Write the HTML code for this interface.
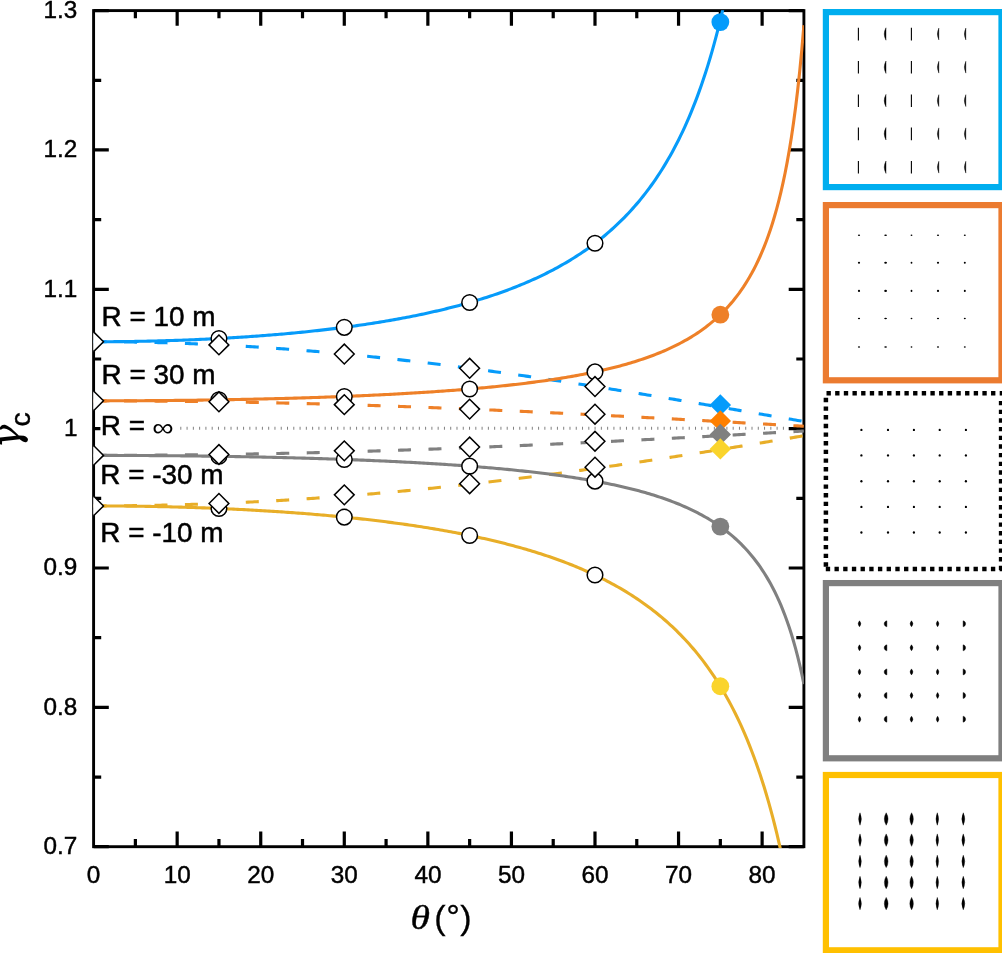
<!DOCTYPE html>
<html lang="en"><head><meta charset="utf-8"><title>Critical gamma versus incidence angle</title>
<style>html,body{margin:0;padding:0;background:#fff;overflow:hidden}svg{display:block}text{font-family:"Liberation Sans",sans-serif;fill:#000}.ser{font-family:"Liberation Serif",serif;font-style:italic}.dj{font-family:"DejaVu Serif","Liberation Serif",serif;font-style:italic}</style></head><body>
<svg width="1002" height="953" viewBox="0 0 1002 953">
<rect width="1002" height="953" fill="#fff"/>
<defs><clipPath id="cp"><rect x="93.2" y="10.2" width="710.7" height="837.7"/></clipPath></defs>
<g stroke="#000" stroke-width="2.9" fill="none" stroke-linecap="butt">
<rect x="93.60" y="10.60" width="710.30" height="836.10"/>
</g><g stroke="#000" stroke-width="3.2" fill="none">
<path d="M135.38 10.60v7.60M135.38 846.70v-7.60"/>
<path d="M177.16 10.60v15.20M177.16 846.70v-15.20"/>
<path d="M218.95 10.60v7.60M218.95 846.70v-7.60"/>
<path d="M260.73 10.60v15.20M260.73 846.70v-15.20"/>
<path d="M302.51 10.60v7.60M302.51 846.70v-7.60"/>
<path d="M344.29 10.60v15.20M344.29 846.70v-15.20"/>
<path d="M386.08 10.60v7.60M386.08 846.70v-7.60"/>
<path d="M427.86 10.60v15.20M427.86 846.70v-15.20"/>
<path d="M469.64 10.60v7.60M469.64 846.70v-7.60"/>
<path d="M511.42 10.60v15.20M511.42 846.70v-15.20"/>
<path d="M553.21 10.60v7.60M553.21 846.70v-7.60"/>
<path d="M594.99 10.60v15.20M594.99 846.70v-15.20"/>
<path d="M636.77 10.60v7.60M636.77 846.70v-7.60"/>
<path d="M678.55 10.60v15.20M678.55 846.70v-15.20"/>
<path d="M720.34 10.60v7.60M720.34 846.70v-7.60"/>
<path d="M762.12 10.60v15.20M762.12 846.70v-15.20"/>
<path d="M93.60 846.70h15.20M803.90 846.70h-15.20"/>
<path d="M93.60 777.03h7.60M803.90 777.03h-7.60"/>
<path d="M93.60 707.35h15.20M803.90 707.35h-15.20"/>
<path d="M93.60 637.68h7.60M803.90 637.68h-7.60"/>
<path d="M93.60 568.00h15.20M803.90 568.00h-15.20"/>
<path d="M93.60 498.33h7.60M803.90 498.33h-7.60"/>
<path d="M93.60 428.65h15.20M803.90 428.65h-15.20"/>
<path d="M93.60 358.98h7.60M803.90 358.98h-7.60"/>
<path d="M93.60 289.30h15.20M803.90 289.30h-15.20"/>
<path d="M93.60 219.63h7.60M803.90 219.63h-7.60"/>
<path d="M93.60 149.95h15.20M803.90 149.95h-15.20"/>
<path d="M93.60 80.28h7.60M803.90 80.28h-7.60"/>
<path d="M93.60 10.60h15.20M803.90 10.60h-15.20"/>
</g>
<path d="M180.30 428.35H786.00" stroke="#808080" stroke-width="3" stroke-dasharray="1 5.277" fill="none"/>
<rect x="100.4" y="414" width="78" height="24" fill="#fff"/>
<g clip-path="url(#cp)" fill="none" stroke-width="3.1" stroke-linejoin="round">
<path d="M93.60 341.75 L95.69 341.75 L97.78 341.75 L99.87 341.76 L101.96 341.76 L104.05 341.77 L106.13 341.78 L108.22 341.79 L110.31 341.81 L112.40 341.82 L114.49 341.84 L116.58 341.86 L118.67 341.88 L120.76 341.90 L122.85 341.92 L124.94 341.95 L127.03 341.98 L129.11 342.00 L131.20 342.04 L133.29 342.07 L135.38 342.10 L137.47 342.14 L139.56 342.18 L141.65 342.21 L143.74 342.26 L145.83 342.30 L147.92 342.34 L150.01 342.39 L152.10 342.44 L154.18 342.49 L156.27 342.54 L158.36 342.59 L160.45 342.65 L162.54 342.71 L164.63 342.76 L166.72 342.82 L168.81 342.89 L170.90 342.95 L172.99 343.02 L175.08 343.08 L177.16 343.15 L179.25 343.22 L181.34 343.29 L183.43 343.37 L185.52 343.44 L187.61 343.52 L189.70 343.60 L191.79 343.68 L193.88 343.77 L195.97 343.85 L198.06 343.94 L200.14 344.02 L202.23 344.11 L204.32 344.20 L206.41 344.30 L208.50 344.39 L210.59 344.49 L212.68 344.59 L214.77 344.69 L216.86 344.79 L218.95 344.89 L221.04 344.99 L223.13 345.10 L225.21 345.21 L227.30 345.32 L229.39 345.43 L231.48 345.54 L233.57 345.66 L235.66 345.77 L237.75 345.89 L239.84 346.01 L241.93 346.13 L244.02 346.26 L246.11 346.38 L248.19 346.51 L250.28 346.63 L252.37 346.76 L254.46 346.89 L256.55 347.03 L258.64 347.16 L260.73 347.30 L262.82 347.43 L264.91 347.57 L267.00 347.71 L269.09 347.86 L271.17 348.00 L273.26 348.15 L275.35 348.29 L277.44 348.44 L279.53 348.59 L281.62 348.74 L283.71 348.90 L285.80 349.05 L287.89 349.21 L289.98 349.37 L292.07 349.53 L294.16 349.69 L296.24 349.85 L298.33 350.02 L300.42 350.18 L302.51 350.35 L304.60 350.52 L306.69 350.69 L308.78 350.86 L310.87 351.04 L312.96 351.21 L315.05 351.39 L317.14 351.57 L319.22 351.74 L321.31 351.93 L323.40 352.11 L325.49 352.29 L327.58 352.48 L329.67 352.67 L331.76 352.85 L333.85 353.04 L335.94 353.24 L338.03 353.43 L340.12 353.62 L342.20 353.82 L344.29 354.02 L346.38 354.22 L348.47 354.42 L350.56 354.62 L352.65 354.82 L354.74 355.02 L356.83 355.23 L358.92 355.44 L361.01 355.65 L363.10 355.86 L365.19 356.07 L367.27 356.28 L369.36 356.50 L371.45 356.71 L373.54 356.93 L375.63 357.15 L377.72 357.37 L379.81 357.59 L381.90 357.81 L383.99 358.03 L386.08 358.26 L388.17 358.49 L390.25 358.71 L392.34 358.94 L394.43 359.17 L396.52 359.41 L398.61 359.64 L400.70 359.87 L402.79 360.11 L404.88 360.35 L406.97 360.59 L409.06 360.82 L411.15 361.07 L413.24 361.31 L415.32 361.55 L417.41 361.80 L419.50 362.04 L421.59 362.29 L423.68 362.54 L425.77 362.79 L427.86 363.04 L429.95 363.29 L432.04 363.54 L434.13 363.80 L436.22 364.05 L438.30 364.31 L440.39 364.57 L442.48 364.83 L444.57 365.09 L446.66 365.35 L448.75 365.61 L450.84 365.88 L452.93 366.14 L455.02 366.41 L457.11 366.68 L459.20 366.95 L461.28 367.22 L463.37 367.49 L465.46 367.76 L467.55 368.03 L469.64 368.31 L471.73 368.58 L473.82 368.86 L475.91 369.13 L478.00 369.41 L480.09 369.69 L482.18 369.97 L484.26 370.25 L486.35 370.54 L488.44 370.82 L490.53 371.11 L492.62 371.39 L494.71 371.68 L496.80 371.97 L498.89 372.26 L500.98 372.55 L503.07 372.84 L505.16 373.13 L507.25 373.42 L509.33 373.71 L511.42 374.01 L513.51 374.31 L515.60 374.60 L517.69 374.90 L519.78 375.20 L521.87 375.50 L523.96 375.80 L526.05 376.10 L528.14 376.40 L530.23 376.70 L532.31 377.01 L534.40 377.31 L536.49 377.62 L538.58 377.93 L540.67 378.23 L542.76 378.54 L544.85 378.85 L546.94 379.16 L549.03 379.47 L551.12 379.78 L553.21 380.10 L555.29 380.41 L557.38 380.73 L559.47 381.04 L561.56 381.36 L563.65 381.67 L565.74 381.99 L567.83 382.31 L569.92 382.63 L572.01 382.95 L574.10 383.27 L576.19 383.59 L578.28 383.91 L580.36 384.23 L582.45 384.56 L584.54 384.88 L586.63 385.21 L588.72 385.53 L590.81 385.86 L592.90 386.19 L594.99 386.51 L597.08 386.84 L599.17 387.17 L601.26 387.50 L603.34 387.83 L605.43 388.16 L607.52 388.49 L609.61 388.83 L611.70 389.16 L613.79 389.49 L615.88 389.83 L617.97 390.16 L620.06 390.50 L622.15 390.83 L624.24 391.17 L626.33 391.51 L628.41 391.84 L630.50 392.18 L632.59 392.52 L634.68 392.86 L636.77 393.20 L638.86 393.54 L640.95 393.88 L643.04 394.22 L645.13 394.57 L647.22 394.91 L649.31 395.25 L651.39 395.59 L653.48 395.94 L655.57 396.28 L657.66 396.63 L659.75 396.97 L661.84 397.32 L663.93 397.66 L666.02 398.01 L668.11 398.36 L670.20 398.71 L672.29 399.05 L674.37 399.40 L676.46 399.75 L678.55 400.10 L680.64 400.45 L682.73 400.80 L684.82 401.15 L686.91 401.50 L689.00 401.85 L691.09 402.20 L693.18 402.55 L695.27 402.91 L697.36 403.26 L699.44 403.61 L701.53 403.96 L703.62 404.32 L705.71 404.67 L707.80 405.02 L709.89 405.38 L711.98 405.73 L714.07 406.09 L716.16 406.44 L718.25 406.80 L720.34 407.15 L722.42 407.51 L724.51 407.86 L726.60 408.22 L728.69 408.58 L730.78 408.93 L732.87 409.29 L734.96 409.65 L737.05 410.00 L739.14 410.36 L741.23 410.72 L743.32 411.08 L745.40 411.43 L747.49 411.79 L749.58 412.15 L751.67 412.51 L753.76 412.87 L755.85 413.22 L757.94 413.58 L760.03 413.94 L762.12 414.30 L764.21 414.66 L766.30 415.02 L768.38 415.38 L770.47 415.74 L772.56 416.09 L774.65 416.45 L776.74 416.81 L778.83 417.17 L780.92 417.53 L783.01 417.89 L785.10 418.25 L787.19 418.61 L789.28 418.97 L791.37 419.33 L793.45 419.69 L795.54 420.05 L797.63 420.41 L799.72 420.77 L801.81 421.12 L803.90 421.48" stroke="#069bfa" stroke-dasharray="13 17.45"/>
<path d="M93.60 400.84 L95.69 400.84 L97.78 400.84 L99.87 400.84 L101.96 400.84 L104.05 400.85 L106.13 400.85 L108.22 400.85 L110.31 400.86 L112.40 400.86 L114.49 400.87 L116.58 400.87 L118.67 400.88 L120.76 400.89 L122.85 400.89 L124.94 400.90 L127.03 400.91 L129.11 400.92 L131.20 400.93 L133.29 400.94 L135.38 400.95 L137.47 400.96 L139.56 400.97 L141.65 400.98 L143.74 401.00 L145.83 401.01 L147.92 401.02 L150.01 401.04 L152.10 401.05 L154.18 401.07 L156.27 401.08 L158.36 401.10 L160.45 401.12 L162.54 401.13 L164.63 401.15 L166.72 401.17 L168.81 401.19 L170.90 401.21 L172.99 401.23 L175.08 401.25 L177.16 401.27 L179.25 401.29 L181.34 401.31 L183.43 401.34 L185.52 401.36 L187.61 401.38 L189.70 401.41 L191.79 401.43 L193.88 401.46 L195.97 401.49 L198.06 401.51 L200.14 401.54 L202.23 401.57 L204.32 401.59 L206.41 401.62 L208.50 401.65 L210.59 401.68 L212.68 401.71 L214.77 401.74 L216.86 401.77 L218.95 401.81 L221.04 401.84 L223.13 401.87 L225.21 401.90 L227.30 401.94 L229.39 401.97 L231.48 402.01 L233.57 402.04 L235.66 402.08 L237.75 402.11 L239.84 402.15 L241.93 402.19 L244.02 402.23 L246.11 402.27 L248.19 402.30 L250.28 402.34 L252.37 402.38 L254.46 402.42 L256.55 402.46 L258.64 402.51 L260.73 402.55 L262.82 402.59 L264.91 402.63 L267.00 402.68 L269.09 402.72 L271.17 402.77 L273.26 402.81 L275.35 402.86 L277.44 402.90 L279.53 402.95 L281.62 403.00 L283.71 403.04 L285.80 403.09 L287.89 403.14 L289.98 403.19 L292.07 403.24 L294.16 403.29 L296.24 403.34 L298.33 403.39 L300.42 403.44 L302.51 403.49 L304.60 403.54 L306.69 403.60 L308.78 403.65 L310.87 403.70 L312.96 403.76 L315.05 403.81 L317.14 403.87 L319.22 403.92 L321.31 403.98 L323.40 404.04 L325.49 404.09 L327.58 404.15 L329.67 404.21 L331.76 404.27 L333.85 404.33 L335.94 404.39 L338.03 404.45 L340.12 404.51 L342.20 404.57 L344.29 404.63 L346.38 404.69 L348.47 404.75 L350.56 404.82 L352.65 404.88 L354.74 404.94 L356.83 405.01 L358.92 405.07 L361.01 405.14 L363.10 405.20 L365.19 405.27 L367.27 405.33 L369.36 405.40 L371.45 405.47 L373.54 405.54 L375.63 405.60 L377.72 405.67 L379.81 405.74 L381.90 405.81 L383.99 405.88 L386.08 405.95 L388.17 406.02 L390.25 406.09 L392.34 406.16 L394.43 406.24 L396.52 406.31 L398.61 406.38 L400.70 406.45 L402.79 406.53 L404.88 406.60 L406.97 406.68 L409.06 406.75 L411.15 406.83 L413.24 406.90 L415.32 406.98 L417.41 407.06 L419.50 407.13 L421.59 407.21 L423.68 407.29 L425.77 407.37 L427.86 407.45 L429.95 407.52 L432.04 407.60 L434.13 407.68 L436.22 407.76 L438.30 407.84 L440.39 407.93 L442.48 408.01 L444.57 408.09 L446.66 408.17 L448.75 408.25 L450.84 408.34 L452.93 408.42 L455.02 408.50 L457.11 408.59 L459.20 408.67 L461.28 408.76 L463.37 408.84 L465.46 408.93 L467.55 409.01 L469.64 409.10 L471.73 409.19 L473.82 409.27 L475.91 409.36 L478.00 409.45 L480.09 409.54 L482.18 409.62 L484.26 409.71 L486.35 409.80 L488.44 409.89 L490.53 409.98 L492.62 410.07 L494.71 410.16 L496.80 410.25 L498.89 410.35 L500.98 410.44 L503.07 410.53 L505.16 410.62 L507.25 410.71 L509.33 410.81 L511.42 410.90 L513.51 410.99 L515.60 411.09 L517.69 411.18 L519.78 411.28 L521.87 411.37 L523.96 411.47 L526.05 411.56 L528.14 411.66 L530.23 411.75 L532.31 411.85 L534.40 411.95 L536.49 412.05 L538.58 412.14 L540.67 412.24 L542.76 412.34 L544.85 412.44 L546.94 412.54 L549.03 412.63 L551.12 412.73 L553.21 412.83 L555.29 412.93 L557.38 413.03 L559.47 413.13 L561.56 413.23 L563.65 413.34 L565.74 413.44 L567.83 413.54 L569.92 413.64 L572.01 413.74 L574.10 413.84 L576.19 413.95 L578.28 414.05 L580.36 414.15 L582.45 414.26 L584.54 414.36 L586.63 414.46 L588.72 414.57 L590.81 414.67 L592.90 414.78 L594.99 414.88 L597.08 414.99 L599.17 415.09 L601.26 415.20 L603.34 415.30 L605.43 415.41 L607.52 415.52 L609.61 415.62 L611.70 415.73 L613.79 415.84 L615.88 415.95 L617.97 416.05 L620.06 416.16 L622.15 416.27 L624.24 416.38 L626.33 416.49 L628.41 416.59 L630.50 416.70 L632.59 416.81 L634.68 416.92 L636.77 417.03 L638.86 417.14 L640.95 417.25 L643.04 417.36 L645.13 417.47 L647.22 417.58 L649.31 417.69 L651.39 417.80 L653.48 417.91 L655.57 418.03 L657.66 418.14 L659.75 418.25 L661.84 418.36 L663.93 418.47 L666.02 418.58 L668.11 418.70 L670.20 418.81 L672.29 418.92 L674.37 419.04 L676.46 419.15 L678.55 419.26 L680.64 419.37 L682.73 419.49 L684.82 419.60 L686.91 419.72 L689.00 419.83 L691.09 419.94 L693.18 420.06 L695.27 420.17 L697.36 420.29 L699.44 420.40 L701.53 420.52 L703.62 420.63 L705.71 420.75 L707.80 420.86 L709.89 420.98 L711.98 421.09 L714.07 421.21 L716.16 421.33 L718.25 421.44 L720.34 421.56 L722.42 421.67 L724.51 421.79 L726.60 421.91 L728.69 422.02 L730.78 422.14 L732.87 422.26 L734.96 422.37 L737.05 422.49 L739.14 422.61 L741.23 422.72 L743.32 422.84 L745.40 422.96 L747.49 423.08 L749.58 423.19 L751.67 423.31 L753.76 423.43 L755.85 423.55 L757.94 423.66 L760.03 423.78 L762.12 423.90 L764.21 424.02 L766.30 424.14 L768.38 424.25 L770.47 424.37 L772.56 424.49 L774.65 424.61 L776.74 424.73 L778.83 424.84 L780.92 424.96 L783.01 425.08 L785.10 425.20 L787.19 425.32 L789.28 425.44 L791.37 425.56 L793.45 425.68 L795.54 425.79 L797.63 425.91 L799.72 426.03 L801.81 426.15 L803.90 426.27" stroke="#ee8028" stroke-dasharray="13 17.45"/>
<path d="M93.60 455.39 L95.69 455.39 L97.78 455.39 L99.87 455.39 L101.96 455.39 L104.05 455.39 L106.13 455.38 L108.22 455.38 L110.31 455.38 L112.40 455.37 L114.49 455.37 L116.58 455.36 L118.67 455.36 L120.76 455.35 L122.85 455.34 L124.94 455.34 L127.03 455.33 L129.11 455.32 L131.20 455.31 L133.29 455.30 L135.38 455.29 L137.47 455.28 L139.56 455.27 L141.65 455.26 L143.74 455.25 L145.83 455.24 L147.92 455.22 L150.01 455.21 L152.10 455.20 L154.18 455.18 L156.27 455.17 L158.36 455.15 L160.45 455.14 L162.54 455.12 L164.63 455.10 L166.72 455.09 L168.81 455.07 L170.90 455.05 L172.99 455.03 L175.08 455.01 L177.16 454.99 L179.25 454.97 L181.34 454.95 L183.43 454.93 L185.52 454.91 L187.61 454.89 L189.70 454.87 L191.79 454.84 L193.88 454.82 L195.97 454.80 L198.06 454.77 L200.14 454.75 L202.23 454.72 L204.32 454.69 L206.41 454.67 L208.50 454.64 L210.59 454.61 L212.68 454.59 L214.77 454.56 L216.86 454.53 L218.95 454.50 L221.04 454.47 L223.13 454.44 L225.21 454.41 L227.30 454.38 L229.39 454.34 L231.48 454.31 L233.57 454.28 L235.66 454.25 L237.75 454.21 L239.84 454.18 L241.93 454.14 L244.02 454.11 L246.11 454.07 L248.19 454.04 L250.28 454.00 L252.37 453.96 L254.46 453.92 L256.55 453.89 L258.64 453.85 L260.73 453.81 L262.82 453.77 L264.91 453.73 L267.00 453.69 L269.09 453.65 L271.17 453.61 L273.26 453.57 L275.35 453.52 L277.44 453.48 L279.53 453.44 L281.62 453.39 L283.71 453.35 L285.80 453.30 L287.89 453.26 L289.98 453.21 L292.07 453.17 L294.16 453.12 L296.24 453.07 L298.33 453.03 L300.42 452.98 L302.51 452.93 L304.60 452.88 L306.69 452.83 L308.78 452.78 L310.87 452.73 L312.96 452.68 L315.05 452.63 L317.14 452.58 L319.22 452.53 L321.31 452.48 L323.40 452.42 L325.49 452.37 L327.58 452.32 L329.67 452.26 L331.76 452.21 L333.85 452.15 L335.94 452.10 L338.03 452.04 L340.12 451.98 L342.20 451.93 L344.29 451.87 L346.38 451.81 L348.47 451.75 L350.56 451.70 L352.65 451.64 L354.74 451.58 L356.83 451.52 L358.92 451.46 L361.01 451.40 L363.10 451.33 L365.19 451.27 L367.27 451.21 L369.36 451.15 L371.45 451.09 L373.54 451.02 L375.63 450.96 L377.72 450.89 L379.81 450.83 L381.90 450.76 L383.99 450.70 L386.08 450.63 L388.17 450.57 L390.25 450.50 L392.34 450.43 L394.43 450.37 L396.52 450.30 L398.61 450.23 L400.70 450.16 L402.79 450.09 L404.88 450.02 L406.97 449.95 L409.06 449.88 L411.15 449.81 L413.24 449.74 L415.32 449.67 L417.41 449.59 L419.50 449.52 L421.59 449.45 L423.68 449.38 L425.77 449.30 L427.86 449.23 L429.95 449.15 L432.04 449.08 L434.13 449.00 L436.22 448.93 L438.30 448.85 L440.39 448.78 L442.48 448.70 L444.57 448.62 L446.66 448.54 L448.75 448.47 L450.84 448.39 L452.93 448.31 L455.02 448.23 L457.11 448.15 L459.20 448.07 L461.28 447.99 L463.37 447.91 L465.46 447.83 L467.55 447.75 L469.64 447.67 L471.73 447.58 L473.82 447.50 L475.91 447.42 L478.00 447.34 L480.09 447.25 L482.18 447.17 L484.26 447.09 L486.35 447.00 L488.44 446.92 L490.53 446.83 L492.62 446.74 L494.71 446.66 L496.80 446.57 L498.89 446.49 L500.98 446.40 L503.07 446.31 L505.16 446.22 L507.25 446.14 L509.33 446.05 L511.42 445.96 L513.51 445.87 L515.60 445.78 L517.69 445.69 L519.78 445.60 L521.87 445.51 L523.96 445.42 L526.05 445.33 L528.14 445.24 L530.23 445.15 L532.31 445.05 L534.40 444.96 L536.49 444.87 L538.58 444.78 L540.67 444.68 L542.76 444.59 L544.85 444.49 L546.94 444.40 L549.03 444.31 L551.12 444.21 L553.21 444.12 L555.29 444.02 L557.38 443.92 L559.47 443.83 L561.56 443.73 L563.65 443.64 L565.74 443.54 L567.83 443.44 L569.92 443.34 L572.01 443.25 L574.10 443.15 L576.19 443.05 L578.28 442.95 L580.36 442.85 L582.45 442.75 L584.54 442.65 L586.63 442.55 L588.72 442.45 L590.81 442.35 L592.90 442.25 L594.99 442.15 L597.08 442.05 L599.17 441.95 L601.26 441.85 L603.34 441.74 L605.43 441.64 L607.52 441.54 L609.61 441.44 L611.70 441.33 L613.79 441.23 L615.88 441.13 L617.97 441.02 L620.06 440.92 L622.15 440.82 L624.24 440.71 L626.33 440.61 L628.41 440.50 L630.50 440.40 L632.59 440.29 L634.68 440.18 L636.77 440.08 L638.86 439.97 L640.95 439.87 L643.04 439.76 L645.13 439.65 L647.22 439.55 L649.31 439.44 L651.39 439.33 L653.48 439.22 L655.57 439.11 L657.66 439.01 L659.75 438.90 L661.84 438.79 L663.93 438.68 L666.02 438.57 L668.11 438.46 L670.20 438.35 L672.29 438.24 L674.37 438.13 L676.46 438.02 L678.55 437.91 L680.64 437.80 L682.73 437.69 L684.82 437.58 L686.91 437.47 L689.00 437.36 L691.09 437.25 L693.18 437.14 L695.27 437.03 L697.36 436.91 L699.44 436.80 L701.53 436.69 L703.62 436.58 L705.71 436.46 L707.80 436.35 L709.89 436.24 L711.98 436.13 L714.07 436.01 L716.16 435.90 L718.25 435.79 L720.34 435.67 L722.42 435.56 L724.51 435.44 L726.60 435.33 L728.69 435.22 L730.78 435.10 L732.87 434.99 L734.96 434.87 L737.05 434.76 L739.14 434.64 L741.23 434.53 L743.32 434.41 L745.40 434.30 L747.49 434.18 L749.58 434.06 L751.67 433.95 L753.76 433.83 L755.85 433.72 L757.94 433.60 L760.03 433.49 L762.12 433.37 L764.21 433.25 L766.30 433.14 L768.38 433.02 L770.47 432.90 L772.56 432.79 L774.65 432.67 L776.74 432.55 L778.83 432.43 L780.92 432.32 L783.01 432.20 L785.10 432.08 L787.19 431.97 L789.28 431.85 L791.37 431.73 L793.45 431.61 L795.54 431.49 L797.63 431.38 L799.72 431.26 L801.81 431.14 L803.90 431.02" stroke="#808080" stroke-dasharray="13 17.45"/>
<path d="M93.60 505.91 L95.69 505.91 L97.78 505.91 L99.87 505.91 L101.96 505.90 L104.05 505.90 L106.13 505.89 L108.22 505.88 L110.31 505.87 L112.40 505.86 L114.49 505.84 L116.58 505.83 L118.67 505.81 L120.76 505.80 L122.85 505.78 L124.94 505.76 L127.03 505.74 L129.11 505.71 L131.20 505.69 L133.29 505.66 L135.38 505.64 L137.47 505.61 L139.56 505.58 L141.65 505.55 L143.74 505.51 L145.83 505.48 L147.92 505.44 L150.01 505.41 L152.10 505.37 L154.18 505.33 L156.27 505.29 L158.36 505.25 L160.45 505.20 L162.54 505.16 L164.63 505.11 L166.72 505.06 L168.81 505.01 L170.90 504.96 L172.99 504.91 L175.08 504.86 L177.16 504.80 L179.25 504.75 L181.34 504.69 L183.43 504.63 L185.52 504.57 L187.61 504.51 L189.70 504.45 L191.79 504.38 L193.88 504.32 L195.97 504.25 L198.06 504.18 L200.14 504.11 L202.23 504.04 L204.32 503.97 L206.41 503.89 L208.50 503.82 L210.59 503.74 L212.68 503.66 L214.77 503.58 L216.86 503.50 L218.95 503.42 L221.04 503.34 L223.13 503.25 L225.21 503.17 L227.30 503.08 L229.39 502.99 L231.48 502.90 L233.57 502.81 L235.66 502.72 L237.75 502.62 L239.84 502.53 L241.93 502.43 L244.02 502.33 L246.11 502.23 L248.19 502.13 L250.28 502.03 L252.37 501.93 L254.46 501.82 L256.55 501.71 L258.64 501.61 L260.73 501.50 L262.82 501.39 L264.91 501.28 L267.00 501.16 L269.09 501.05 L271.17 500.93 L273.26 500.82 L275.35 500.70 L277.44 500.58 L279.53 500.46 L281.62 500.33 L283.71 500.21 L285.80 500.09 L287.89 499.96 L289.98 499.83 L292.07 499.70 L294.16 499.57 L296.24 499.44 L298.33 499.31 L300.42 499.18 L302.51 499.04 L304.60 498.90 L306.69 498.77 L308.78 498.63 L310.87 498.49 L312.96 498.34 L315.05 498.20 L317.14 498.06 L319.22 497.91 L321.31 497.76 L323.40 497.62 L325.49 497.47 L327.58 497.31 L329.67 497.16 L331.76 497.01 L333.85 496.85 L335.94 496.70 L338.03 496.54 L340.12 496.38 L342.20 496.22 L344.29 496.06 L346.38 495.90 L348.47 495.74 L350.56 495.57 L352.65 495.41 L354.74 495.24 L356.83 495.07 L358.92 494.90 L361.01 494.73 L363.10 494.56 L365.19 494.38 L367.27 494.21 L369.36 494.03 L371.45 493.86 L373.54 493.68 L375.63 493.50 L377.72 493.32 L379.81 493.13 L381.90 492.95 L383.99 492.77 L386.08 492.58 L388.17 492.39 L390.25 492.21 L392.34 492.02 L394.43 491.83 L396.52 491.63 L398.61 491.44 L400.70 491.25 L402.79 491.05 L404.88 490.86 L406.97 490.66 L409.06 490.46 L411.15 490.26 L413.24 490.06 L415.32 489.85 L417.41 489.65 L419.50 489.45 L421.59 489.24 L423.68 489.03 L425.77 488.82 L427.86 488.61 L429.95 488.40 L432.04 488.19 L434.13 487.98 L436.22 487.77 L438.30 487.55 L440.39 487.33 L442.48 487.12 L444.57 486.90 L446.66 486.68 L448.75 486.46 L450.84 486.23 L452.93 486.01 L455.02 485.79 L457.11 485.56 L459.20 485.33 L461.28 485.11 L463.37 484.88 L465.46 484.65 L467.55 484.42 L469.64 484.19 L471.73 483.95 L473.82 483.72 L475.91 483.48 L478.00 483.25 L480.09 483.01 L482.18 482.77 L484.26 482.53 L486.35 482.29 L488.44 482.05 L490.53 481.80 L492.62 481.56 L494.71 481.32 L496.80 481.07 L498.89 480.82 L500.98 480.57 L503.07 480.32 L505.16 480.07 L507.25 479.82 L509.33 479.57 L511.42 479.32 L513.51 479.06 L515.60 478.81 L517.69 478.55 L519.78 478.29 L521.87 478.04 L523.96 477.78 L526.05 477.52 L528.14 477.25 L530.23 476.99 L532.31 476.73 L534.40 476.46 L536.49 476.20 L538.58 475.93 L540.67 475.66 L542.76 475.40 L544.85 475.13 L546.94 474.86 L549.03 474.58 L551.12 474.31 L553.21 474.04 L555.29 473.77 L557.38 473.49 L559.47 473.21 L561.56 472.94 L563.65 472.66 L565.74 472.38 L567.83 472.10 L569.92 471.82 L572.01 471.54 L574.10 471.26 L576.19 470.97 L578.28 470.69 L580.36 470.40 L582.45 470.12 L584.54 469.83 L586.63 469.54 L588.72 469.25 L590.81 468.96 L592.90 468.67 L594.99 468.38 L597.08 468.09 L599.17 467.80 L601.26 467.50 L603.34 467.21 L605.43 466.91 L607.52 466.62 L609.61 466.32 L611.70 466.02 L613.79 465.72 L615.88 465.42 L617.97 465.12 L620.06 464.82 L622.15 464.52 L624.24 464.22 L626.33 463.91 L628.41 463.61 L630.50 463.30 L632.59 463.00 L634.68 462.69 L636.77 462.38 L638.86 462.07 L640.95 461.77 L643.04 461.46 L645.13 461.14 L647.22 460.83 L649.31 460.52 L651.39 460.21 L653.48 459.89 L655.57 459.58 L657.66 459.27 L659.75 458.95 L661.84 458.63 L663.93 458.32 L666.02 458.00 L668.11 457.68 L670.20 457.36 L672.29 457.04 L674.37 456.72 L676.46 456.40 L678.55 456.08 L680.64 455.75 L682.73 455.43 L684.82 455.11 L686.91 454.78 L689.00 454.46 L691.09 454.13 L693.18 453.80 L695.27 453.48 L697.36 453.15 L699.44 452.82 L701.53 452.49 L703.62 452.16 L705.71 451.83 L707.80 451.50 L709.89 451.17 L711.98 450.84 L714.07 450.51 L716.16 450.17 L718.25 449.84 L720.34 449.50 L722.42 449.17 L724.51 448.83 L726.60 448.50 L728.69 448.16 L730.78 447.82 L732.87 447.49 L734.96 447.15 L737.05 446.81 L739.14 446.47 L741.23 446.13 L743.32 445.79 L745.40 445.45 L747.49 445.11 L749.58 444.77 L751.67 444.43 L753.76 444.09 L755.85 443.74 L757.94 443.40 L760.03 443.06 L762.12 442.71 L764.21 442.37 L766.30 442.02 L768.38 441.68 L770.47 441.33 L772.56 440.98 L774.65 440.64 L776.74 440.29 L778.83 439.94 L780.92 439.59 L783.01 439.25 L785.10 438.90 L787.19 438.55 L789.28 438.20 L791.37 437.85 L793.45 437.50 L795.54 437.15 L797.63 436.80 L799.72 436.45 L801.81 436.09 L803.90 435.74" stroke="#e8ae28" stroke-dasharray="13 17.45"/>
<path d="M93.60 341.75 L95.69 341.75 L97.78 341.75 L99.87 341.74 L101.96 341.74 L104.05 341.73 L106.13 341.72 L108.22 341.71 L110.31 341.69 L112.40 341.68 L114.49 341.66 L116.58 341.64 L118.67 341.62 L120.76 341.60 L122.85 341.58 L124.94 341.55 L127.03 341.53 L129.11 341.50 L131.20 341.47 L133.29 341.43 L135.38 341.40 L137.47 341.36 L139.56 341.32 L141.65 341.28 L143.74 341.24 L145.83 341.20 L147.92 341.15 L150.01 341.11 L152.10 341.06 L154.18 341.01 L156.27 340.95 L158.36 340.90 L160.45 340.84 L162.54 340.78 L164.63 340.72 L166.72 340.66 L168.81 340.60 L170.90 340.53 L172.99 340.47 L175.08 340.40 L177.16 340.33 L179.25 340.25 L181.34 340.18 L183.43 340.10 L185.52 340.02 L187.61 339.94 L189.70 339.86 L191.79 339.77 L193.88 339.69 L195.97 339.60 L198.06 339.51 L200.14 339.41 L202.23 339.32 L204.32 339.22 L206.41 339.12 L208.50 339.02 L210.59 338.92 L212.68 338.81 L214.77 338.71 L216.86 338.60 L218.95 338.49 L221.04 338.37 L223.13 338.26 L225.21 338.14 L227.30 338.02 L229.39 337.90 L231.48 337.77 L233.57 337.65 L235.66 337.52 L237.75 337.39 L239.84 337.26 L241.93 337.12 L244.02 336.98 L246.11 336.84 L248.19 336.70 L250.28 336.56 L252.37 336.41 L254.46 336.26 L256.55 336.11 L258.64 335.96 L260.73 335.80 L262.82 335.64 L264.91 335.48 L267.00 335.32 L269.09 335.15 L271.17 334.98 L273.26 334.81 L275.35 334.64 L277.44 334.46 L279.53 334.29 L281.62 334.10 L283.71 333.92 L285.80 333.73 L287.89 333.55 L289.98 333.35 L292.07 333.16 L294.16 332.96 L296.24 332.76 L298.33 332.56 L300.42 332.35 L302.51 332.14 L304.60 331.93 L306.69 331.72 L308.78 331.50 L310.87 331.28 L312.96 331.06 L315.05 330.83 L317.14 330.60 L319.22 330.37 L321.31 330.14 L323.40 329.90 L325.49 329.65 L327.58 329.41 L329.67 329.16 L331.76 328.91 L333.85 328.66 L335.94 328.40 L338.03 328.14 L340.12 327.87 L342.20 327.60 L344.29 327.33 L346.38 327.05 L348.47 326.77 L350.56 326.49 L352.65 326.21 L354.74 325.92 L356.83 325.62 L358.92 325.32 L361.01 325.02 L363.10 324.72 L365.19 324.41 L367.27 324.09 L369.36 323.78 L371.45 323.45 L373.54 323.13 L375.63 322.80 L377.72 322.46 L379.81 322.13 L381.90 321.78 L383.99 321.44 L386.08 321.08 L388.17 320.73 L390.25 320.37 L392.34 320.00 L394.43 319.63 L396.52 319.26 L398.61 318.88 L400.70 318.49 L402.79 318.10 L404.88 317.71 L406.97 317.31 L409.06 316.90 L411.15 316.49 L413.24 316.08 L415.32 315.65 L417.41 315.23 L419.50 314.80 L421.59 314.36 L423.68 313.91 L425.77 313.46 L427.86 313.01 L429.95 312.55 L432.04 312.08 L434.13 311.61 L436.22 311.13 L438.30 310.64 L440.39 310.15 L442.48 309.65 L444.57 309.14 L446.66 308.63 L448.75 308.11 L450.84 307.58 L452.93 307.04 L455.02 306.50 L457.11 305.95 L459.20 305.40 L461.28 304.83 L463.37 304.26 L465.46 303.68 L467.55 303.09 L469.64 302.50 L471.73 301.89 L473.82 301.28 L475.91 300.66 L478.00 300.03 L480.09 299.39 L482.18 298.74 L484.26 298.08 L486.35 297.42 L488.44 296.74 L490.53 296.05 L492.62 295.36 L494.71 294.65 L496.80 293.93 L498.89 293.20 L500.98 292.47 L503.07 291.72 L505.16 290.96 L507.25 290.18 L509.33 289.40 L511.42 288.61 L513.51 287.80 L515.60 286.98 L517.69 286.15 L519.78 285.30 L521.87 284.44 L523.96 283.57 L526.05 282.68 L528.14 281.78 L530.23 280.87 L532.31 279.94 L534.40 279.00 L536.49 278.04 L538.58 277.07 L540.67 276.08 L542.76 275.07 L544.85 274.05 L546.94 273.01 L549.03 271.95 L551.12 270.87 L553.21 269.78 L555.29 268.67 L557.38 267.54 L559.47 266.39 L561.56 265.21 L563.65 264.02 L565.74 262.81 L567.83 261.58 L569.92 260.32 L572.01 259.04 L574.10 257.74 L576.19 256.41 L578.28 255.06 L580.36 253.69 L582.45 252.28 L584.54 250.86 L586.63 249.40 L588.72 247.92 L590.81 246.41 L592.90 244.86 L594.99 243.29 L597.08 241.69 L599.17 240.05 L601.26 238.39 L603.34 236.68 L605.43 234.95 L607.52 233.17 L609.61 231.36 L611.70 229.52 L613.79 227.63 L615.88 225.70 L617.97 223.73 L620.06 221.72 L622.15 219.66 L624.24 217.56 L626.33 215.40 L628.41 213.20 L630.50 210.95 L632.59 208.65 L634.68 206.29 L636.77 203.88 L638.86 201.41 L640.95 198.87 L643.04 196.28 L645.13 193.62 L647.22 190.90 L649.31 188.10 L651.39 185.23 L653.48 182.29 L655.57 179.27 L657.66 176.17 L659.75 172.99 L661.84 169.72 L663.93 166.36 L666.02 162.90 L668.11 159.34 L670.20 155.69 L672.29 151.92 L674.37 148.04 L676.46 144.05 L678.55 139.94 L680.64 135.69 L682.73 131.32 L684.82 126.80 L686.91 122.14 L689.00 117.32 L691.09 112.34 L693.18 107.20 L695.27 101.87 L697.36 96.36 L699.44 90.65 L701.53 84.73 L703.62 78.59 L705.71 72.22 L707.80 65.61 L709.89 58.74 L711.98 51.59 L714.07 44.15 L716.16 36.40 L718.25 28.33 L720.34 19.90 L722.42 11.10 L724.51 1.91 L726.60 -7.72 L728.69 -17.79 L730.78 -28.36 L732.87 -39.45 L734.96 -51.11 L737.05 -63.37 L739.14 -76.29 L741.23 -89.92 L743.32 -104.32 L745.40 -119.55 L747.49 -135.70 L749.58 -152.85 L751.67 -171.09 L753.76 -190.52 L755.85 -198.42" stroke="#069bfa"/>
<path d="M93.60 400.84 L95.69 400.84 L97.78 400.84 L99.87 400.84 L101.96 400.84 L104.05 400.83 L106.13 400.83 L108.22 400.83 L110.31 400.82 L112.40 400.82 L114.49 400.81 L116.58 400.81 L118.67 400.80 L120.76 400.79 L122.85 400.79 L124.94 400.78 L127.03 400.77 L129.11 400.76 L131.20 400.75 L133.29 400.74 L135.38 400.73 L137.47 400.72 L139.56 400.71 L141.65 400.70 L143.74 400.68 L145.83 400.67 L147.92 400.66 L150.01 400.64 L152.10 400.63 L154.18 400.61 L156.27 400.59 L158.36 400.58 L160.45 400.56 L162.54 400.54 L164.63 400.52 L166.72 400.51 L168.81 400.49 L170.90 400.47 L172.99 400.45 L175.08 400.42 L177.16 400.40 L179.25 400.38 L181.34 400.36 L183.43 400.33 L185.52 400.31 L187.61 400.28 L189.70 400.26 L191.79 400.23 L193.88 400.21 L195.97 400.18 L198.06 400.15 L200.14 400.12 L202.23 400.09 L204.32 400.06 L206.41 400.03 L208.50 400.00 L210.59 399.97 L212.68 399.94 L214.77 399.91 L216.86 399.87 L218.95 399.84 L221.04 399.80 L223.13 399.77 L225.21 399.73 L227.30 399.70 L229.39 399.66 L231.48 399.62 L233.57 399.58 L235.66 399.54 L237.75 399.50 L239.84 399.46 L241.93 399.42 L244.02 399.38 L246.11 399.34 L248.19 399.29 L250.28 399.25 L252.37 399.20 L254.46 399.16 L256.55 399.11 L258.64 399.06 L260.73 399.02 L262.82 398.97 L264.91 398.92 L267.00 398.87 L269.09 398.82 L271.17 398.77 L273.26 398.72 L275.35 398.66 L277.44 398.61 L279.53 398.55 L281.62 398.50 L283.71 398.44 L285.80 398.39 L287.89 398.33 L289.98 398.27 L292.07 398.21 L294.16 398.15 L296.24 398.09 L298.33 398.03 L300.42 397.96 L302.51 397.90 L304.60 397.84 L306.69 397.77 L308.78 397.71 L310.87 397.64 L312.96 397.57 L315.05 397.50 L317.14 397.43 L319.22 397.36 L321.31 397.29 L323.40 397.22 L325.49 397.14 L327.58 397.07 L329.67 396.99 L331.76 396.92 L333.85 396.84 L335.94 396.76 L338.03 396.68 L340.12 396.60 L342.20 396.52 L344.29 396.44 L346.38 396.35 L348.47 396.27 L350.56 396.18 L352.65 396.10 L354.74 396.01 L356.83 395.92 L358.92 395.83 L361.01 395.74 L363.10 395.65 L365.19 395.55 L367.27 395.46 L369.36 395.36 L371.45 395.27 L373.54 395.17 L375.63 395.07 L377.72 394.97 L379.81 394.86 L381.90 394.76 L383.99 394.66 L386.08 394.55 L388.17 394.44 L390.25 394.33 L392.34 394.22 L394.43 394.11 L396.52 394.00 L398.61 393.88 L400.70 393.77 L402.79 393.65 L404.88 393.53 L406.97 393.41 L409.06 393.29 L411.15 393.17 L413.24 393.04 L415.32 392.92 L417.41 392.79 L419.50 392.66 L421.59 392.53 L423.68 392.39 L425.77 392.26 L427.86 392.12 L429.95 391.99 L432.04 391.85 L434.13 391.70 L436.22 391.56 L438.30 391.42 L440.39 391.27 L442.48 391.12 L444.57 390.97 L446.66 390.81 L448.75 390.66 L450.84 390.50 L452.93 390.34 L455.02 390.18 L457.11 390.02 L459.20 389.85 L461.28 389.69 L463.37 389.52 L465.46 389.34 L467.55 389.17 L469.64 388.99 L471.73 388.81 L473.82 388.63 L475.91 388.45 L478.00 388.26 L480.09 388.07 L482.18 387.88 L484.26 387.69 L486.35 387.49 L488.44 387.29 L490.53 387.09 L492.62 386.88 L494.71 386.67 L496.80 386.46 L498.89 386.25 L500.98 386.03 L503.07 385.81 L505.16 385.59 L507.25 385.36 L509.33 385.13 L511.42 384.90 L513.51 384.66 L515.60 384.42 L517.69 384.18 L519.78 383.93 L521.87 383.68 L523.96 383.43 L526.05 383.17 L528.14 382.91 L530.23 382.64 L532.31 382.37 L534.40 382.10 L536.49 381.82 L538.58 381.54 L540.67 381.25 L542.76 380.96 L544.85 380.66 L546.94 380.36 L549.03 380.06 L551.12 379.75 L553.21 379.43 L555.29 379.11 L557.38 378.79 L559.47 378.46 L561.56 378.12 L563.65 377.78 L565.74 377.43 L567.83 377.08 L569.92 376.72 L572.01 376.36 L574.10 375.99 L576.19 375.61 L578.28 375.22 L580.36 374.83 L582.45 374.44 L584.54 374.03 L586.63 373.62 L588.72 373.20 L590.81 372.77 L592.90 372.34 L594.99 371.90 L597.08 371.45 L599.17 370.99 L601.26 370.52 L603.34 370.04 L605.43 369.56 L607.52 369.06 L609.61 368.56 L611.70 368.05 L613.79 367.52 L615.88 366.99 L617.97 366.44 L620.06 365.89 L622.15 365.32 L624.24 364.74 L626.33 364.15 L628.41 363.55 L630.50 362.93 L632.59 362.30 L634.68 361.66 L636.77 361.00 L638.86 360.33 L640.95 359.64 L643.04 358.94 L645.13 358.23 L647.22 357.49 L649.31 356.74 L651.39 355.97 L653.48 355.19 L655.57 354.38 L657.66 353.56 L659.75 352.72 L661.84 351.85 L663.93 350.97 L666.02 350.06 L668.11 349.13 L670.20 348.17 L672.29 347.19 L674.37 346.19 L676.46 345.15 L678.55 344.09 L680.64 343.00 L682.73 341.88 L684.82 340.73 L686.91 339.55 L689.00 338.33 L691.09 337.07 L693.18 335.78 L695.27 334.45 L697.36 333.08 L699.44 331.67 L701.53 330.21 L703.62 328.70 L705.71 327.15 L707.80 325.54 L709.89 323.89 L711.98 322.17 L714.07 320.40 L716.16 318.56 L718.25 316.66 L720.34 314.69 L722.42 312.64 L724.51 310.52 L726.60 308.32 L728.69 306.03 L730.78 303.64 L732.87 301.17 L734.96 298.58 L737.05 295.89 L739.14 293.09 L741.23 290.15 L743.32 287.09 L745.40 283.88 L747.49 280.52 L749.58 277.00 L751.67 273.31 L753.76 269.42 L755.85 265.34 L757.94 261.03 L760.03 256.49 L762.12 251.69 L764.21 246.61 L766.30 241.23 L768.38 235.51 L770.47 229.43 L772.56 222.96 L774.65 216.04 L776.74 208.63 L778.83 200.68 L780.92 192.14 L783.01 182.92 L785.10 172.95 L787.19 162.13 L789.28 150.34 L791.37 137.46 L793.45 123.32 L795.54 107.73 L797.63 90.45 L799.72 71.20 L801.81 49.61 L803.90 25.24" stroke="#ee8028"/>
<path d="M93.60 455.39 L95.69 455.39 L97.78 455.39 L99.87 455.40 L101.96 455.40 L104.05 455.40 L106.13 455.40 L108.22 455.41 L110.31 455.41 L112.40 455.41 L114.49 455.42 L116.58 455.42 L118.67 455.43 L120.76 455.44 L122.85 455.44 L124.94 455.45 L127.03 455.46 L129.11 455.47 L131.20 455.47 L133.29 455.48 L135.38 455.49 L137.47 455.50 L139.56 455.51 L141.65 455.53 L143.74 455.54 L145.83 455.55 L147.92 455.56 L150.01 455.58 L152.10 455.59 L154.18 455.60 L156.27 455.62 L158.36 455.63 L160.45 455.65 L162.54 455.67 L164.63 455.68 L166.72 455.70 L168.81 455.72 L170.90 455.74 L172.99 455.76 L175.08 455.78 L177.16 455.80 L179.25 455.82 L181.34 455.84 L183.43 455.86 L185.52 455.88 L187.61 455.91 L189.70 455.93 L191.79 455.95 L193.88 455.98 L195.97 456.00 L198.06 456.03 L200.14 456.06 L202.23 456.08 L204.32 456.11 L206.41 456.14 L208.50 456.17 L210.59 456.20 L212.68 456.23 L214.77 456.26 L216.86 456.29 L218.95 456.32 L221.04 456.35 L223.13 456.38 L225.21 456.42 L227.30 456.45 L229.39 456.48 L231.48 456.52 L233.57 456.55 L235.66 456.59 L237.75 456.63 L239.84 456.66 L241.93 456.70 L244.02 456.74 L246.11 456.78 L248.19 456.82 L250.28 456.86 L252.37 456.90 L254.46 456.94 L256.55 456.99 L258.64 457.03 L260.73 457.07 L262.82 457.12 L264.91 457.16 L267.00 457.21 L269.09 457.26 L271.17 457.30 L273.26 457.35 L275.35 457.40 L277.44 457.45 L279.53 457.50 L281.62 457.55 L283.71 457.60 L285.80 457.65 L287.89 457.71 L289.98 457.76 L292.07 457.82 L294.16 457.87 L296.24 457.93 L298.33 457.98 L300.42 458.04 L302.51 458.10 L304.60 458.16 L306.69 458.22 L308.78 458.28 L310.87 458.34 L312.96 458.40 L315.05 458.47 L317.14 458.53 L319.22 458.59 L321.31 458.66 L323.40 458.73 L325.49 458.79 L327.58 458.86 L329.67 458.93 L331.76 459.00 L333.85 459.07 L335.94 459.14 L338.03 459.22 L340.12 459.29 L342.20 459.36 L344.29 459.44 L346.38 459.51 L348.47 459.59 L350.56 459.67 L352.65 459.75 L354.74 459.83 L356.83 459.91 L358.92 459.99 L361.01 460.08 L363.10 460.16 L365.19 460.25 L367.27 460.33 L369.36 460.42 L371.45 460.51 L373.54 460.60 L375.63 460.69 L377.72 460.78 L379.81 460.87 L381.90 460.97 L383.99 461.06 L386.08 461.16 L388.17 461.26 L390.25 461.36 L392.34 461.46 L394.43 461.56 L396.52 461.66 L398.61 461.76 L400.70 461.87 L402.79 461.97 L404.88 462.08 L406.97 462.19 L409.06 462.30 L411.15 462.41 L413.24 462.53 L415.32 462.64 L417.41 462.76 L419.50 462.87 L421.59 462.99 L423.68 463.11 L425.77 463.23 L427.86 463.36 L429.95 463.48 L432.04 463.61 L434.13 463.74 L436.22 463.87 L438.30 464.00 L440.39 464.13 L442.48 464.26 L444.57 464.40 L446.66 464.54 L448.75 464.68 L450.84 464.82 L452.93 464.96 L455.02 465.11 L457.11 465.25 L459.20 465.40 L461.28 465.55 L463.37 465.70 L465.46 465.86 L467.55 466.01 L469.64 466.17 L471.73 466.33 L473.82 466.49 L475.91 466.66 L478.00 466.83 L480.09 466.99 L482.18 467.17 L484.26 467.34 L486.35 467.51 L488.44 467.69 L490.53 467.87 L492.62 468.06 L494.71 468.24 L496.80 468.43 L498.89 468.62 L500.98 468.81 L503.07 469.01 L505.16 469.20 L507.25 469.41 L509.33 469.61 L511.42 469.82 L513.51 470.02 L515.60 470.24 L517.69 470.45 L519.78 470.67 L521.87 470.89 L523.96 471.12 L526.05 471.34 L528.14 471.57 L530.23 471.81 L532.31 472.04 L534.40 472.29 L536.49 472.53 L538.58 472.78 L540.67 473.03 L542.76 473.28 L544.85 473.54 L546.94 473.81 L549.03 474.07 L551.12 474.34 L553.21 474.62 L555.29 474.90 L557.38 475.18 L559.47 475.47 L561.56 475.76 L563.65 476.06 L565.74 476.36 L567.83 476.67 L569.92 476.98 L572.01 477.29 L574.10 477.61 L576.19 477.94 L578.28 478.27 L580.36 478.61 L582.45 478.95 L584.54 479.30 L586.63 479.65 L588.72 480.01 L590.81 480.38 L592.90 480.75 L594.99 481.13 L597.08 481.51 L599.17 481.91 L601.26 482.30 L603.34 482.71 L605.43 483.12 L607.52 483.54 L609.61 483.97 L611.70 484.40 L613.79 484.85 L615.88 485.30 L617.97 485.76 L620.06 486.23 L622.15 486.70 L624.24 487.19 L626.33 487.69 L628.41 488.19 L630.50 488.71 L632.59 489.23 L634.68 489.77 L636.77 490.31 L638.86 490.87 L640.95 491.44 L643.04 492.02 L645.13 492.61 L647.22 493.21 L649.31 493.83 L651.39 494.46 L653.48 495.10 L655.57 495.76 L657.66 496.43 L659.75 497.12 L661.84 497.82 L663.93 498.54 L666.02 499.28 L668.11 500.03 L670.20 500.80 L672.29 501.58 L674.37 502.39 L676.46 503.21 L678.55 504.06 L680.64 504.92 L682.73 505.81 L684.82 506.72 L686.91 507.65 L689.00 508.61 L691.09 509.59 L693.18 510.60 L695.27 511.63 L697.36 512.69 L699.44 513.78 L701.53 514.91 L703.62 516.06 L705.71 517.24 L707.80 518.46 L709.89 519.72 L711.98 521.01 L714.07 522.35 L716.16 523.72 L718.25 525.13 L720.34 526.59 L722.42 528.10 L724.51 529.66 L726.60 531.26 L728.69 532.92 L730.78 534.64 L732.87 536.42 L734.96 538.26 L737.05 540.16 L739.14 542.13 L741.23 544.18 L743.32 546.31 L745.40 548.51 L747.49 550.81 L749.58 553.19 L751.67 555.67 L753.76 558.26 L755.85 560.95 L757.94 563.76 L760.03 566.70 L762.12 569.77 L764.21 572.98 L766.30 576.34 L768.38 579.87 L770.47 583.57 L772.56 587.46 L774.65 591.55 L776.74 595.87 L778.83 600.42 L780.92 605.22 L783.01 610.31 L785.10 615.70 L787.19 621.43 L789.28 627.52 L791.37 634.01 L793.45 640.95 L795.54 648.37 L797.63 656.33 L799.72 664.90 L801.81 674.14 L803.90 684.14" stroke="#808080"/>
<path d="M93.60 505.91 L95.69 505.91 L97.78 505.92 L99.87 505.92 L101.96 505.92 L104.05 505.93 L106.13 505.94 L108.22 505.95 L110.31 505.96 L112.40 505.97 L114.49 505.98 L116.58 506.00 L118.67 506.01 L120.76 506.03 L122.85 506.05 L124.94 506.07 L127.03 506.09 L129.11 506.11 L131.20 506.14 L133.29 506.16 L135.38 506.19 L137.47 506.22 L139.56 506.25 L141.65 506.28 L143.74 506.31 L145.83 506.35 L147.92 506.39 L150.01 506.42 L152.10 506.46 L154.18 506.50 L156.27 506.54 L158.36 506.59 L160.45 506.63 L162.54 506.68 L164.63 506.72 L166.72 506.77 L168.81 506.82 L170.90 506.87 L172.99 506.93 L175.08 506.98 L177.16 507.04 L179.25 507.10 L181.34 507.15 L183.43 507.22 L185.52 507.28 L187.61 507.34 L189.70 507.41 L191.79 507.47 L193.88 507.54 L195.97 507.61 L198.06 507.68 L200.14 507.76 L202.23 507.83 L204.32 507.91 L206.41 507.98 L208.50 508.06 L210.59 508.14 L212.68 508.23 L214.77 508.31 L216.86 508.40 L218.95 508.48 L221.04 508.57 L223.13 508.66 L225.21 508.75 L227.30 508.85 L229.39 508.94 L231.48 509.04 L233.57 509.14 L235.66 509.24 L237.75 509.34 L239.84 509.45 L241.93 509.55 L244.02 509.66 L246.11 509.77 L248.19 509.88 L250.28 509.99 L252.37 510.10 L254.46 510.22 L256.55 510.34 L258.64 510.46 L260.73 510.58 L262.82 510.70 L264.91 510.83 L267.00 510.96 L269.09 511.08 L271.17 511.22 L273.26 511.35 L275.35 511.48 L277.44 511.62 L279.53 511.76 L281.62 511.90 L283.71 512.04 L285.80 512.19 L287.89 512.33 L289.98 512.48 L292.07 512.63 L294.16 512.78 L296.24 512.94 L298.33 513.09 L300.42 513.25 L302.51 513.41 L304.60 513.58 L306.69 513.74 L308.78 513.91 L310.87 514.08 L312.96 514.25 L315.05 514.43 L317.14 514.60 L319.22 514.78 L321.31 514.96 L323.40 515.14 L325.49 515.33 L327.58 515.52 L329.67 515.71 L331.76 515.90 L333.85 516.10 L335.94 516.29 L338.03 516.49 L340.12 516.69 L342.20 516.90 L344.29 517.11 L346.38 517.32 L348.47 517.53 L350.56 517.74 L352.65 517.96 L354.74 518.18 L356.83 518.41 L358.92 518.63 L361.01 518.86 L363.10 519.09 L365.19 519.33 L367.27 519.56 L369.36 519.80 L371.45 520.05 L373.54 520.29 L375.63 520.54 L377.72 520.79 L379.81 521.05 L381.90 521.31 L383.99 521.57 L386.08 521.83 L388.17 522.10 L390.25 522.37 L392.34 522.64 L394.43 522.92 L396.52 523.20 L398.61 523.48 L400.70 523.77 L402.79 524.06 L404.88 524.35 L406.97 524.65 L409.06 524.95 L411.15 525.26 L413.24 525.57 L415.32 525.88 L417.41 526.19 L419.50 526.51 L421.59 526.84 L423.68 527.16 L425.77 527.50 L427.86 527.83 L429.95 528.17 L432.04 528.51 L434.13 528.86 L436.22 529.21 L438.30 529.57 L440.39 529.93 L442.48 530.29 L444.57 530.66 L446.66 531.04 L448.75 531.41 L450.84 531.80 L452.93 532.19 L455.02 532.58 L457.11 532.97 L459.20 533.38 L461.28 533.78 L463.37 534.20 L465.46 534.61 L467.55 535.04 L469.64 535.46 L471.73 535.90 L473.82 536.33 L475.91 536.78 L478.00 537.23 L480.09 537.68 L482.18 538.14 L484.26 538.61 L486.35 539.08 L488.44 539.56 L490.53 540.05 L492.62 540.54 L494.71 541.04 L496.80 541.54 L498.89 542.05 L500.98 542.57 L503.07 543.09 L505.16 543.62 L507.25 544.16 L509.33 544.71 L511.42 545.26 L513.51 545.82 L515.60 546.38 L517.69 546.96 L519.78 547.54 L521.87 548.13 L523.96 548.73 L526.05 549.33 L528.14 549.95 L530.23 550.57 L532.31 551.20 L534.40 551.84 L536.49 552.49 L538.58 553.15 L540.67 553.82 L542.76 554.49 L544.85 555.18 L546.94 555.87 L549.03 556.58 L551.12 557.30 L553.21 558.02 L555.29 558.76 L557.38 559.51 L559.47 560.26 L561.56 561.03 L563.65 561.81 L565.74 562.61 L567.83 563.41 L569.92 564.23 L572.01 565.05 L574.10 565.90 L576.19 566.75 L578.28 567.62 L580.36 568.50 L582.45 569.39 L584.54 570.30 L586.63 571.22 L588.72 572.16 L590.81 573.11 L592.90 574.08 L594.99 575.06 L597.08 576.06 L599.17 577.07 L601.26 578.10 L603.34 579.15 L605.43 580.22 L607.52 581.30 L609.61 582.40 L611.70 583.52 L613.79 584.66 L615.88 585.82 L617.97 587.00 L620.06 588.20 L622.15 589.42 L624.24 590.66 L626.33 591.92 L628.41 593.21 L630.50 594.52 L632.59 595.85 L634.68 597.21 L636.77 598.60 L638.86 600.01 L640.95 601.44 L643.04 602.90 L645.13 604.40 L647.22 605.92 L649.31 607.46 L651.39 609.04 L653.48 610.65 L655.57 612.30 L657.66 613.97 L659.75 615.68 L661.84 617.43 L663.93 619.21 L666.02 621.03 L668.11 622.88 L670.20 624.78 L672.29 626.71 L674.37 628.69 L676.46 630.71 L678.55 632.78 L680.64 634.89 L682.73 637.05 L684.82 639.26 L686.91 641.52 L689.00 643.83 L691.09 646.20 L693.18 648.62 L695.27 651.10 L697.36 653.64 L699.44 656.24 L701.53 658.91 L703.62 661.65 L705.71 664.45 L707.80 667.33 L709.89 670.28 L711.98 673.31 L714.07 676.42 L716.16 679.61 L718.25 682.89 L720.34 686.27 L722.42 689.74 L724.51 693.30 L726.60 696.97 L728.69 700.75 L730.78 704.64 L732.87 708.64 L734.96 712.77 L737.05 717.03 L739.14 721.42 L741.23 725.95 L743.32 730.63 L745.40 735.46 L747.49 740.45 L749.58 745.61 L751.67 750.96 L753.76 756.49 L755.85 762.22 L757.94 768.15 L760.03 774.31 L762.12 780.70 L764.21 787.34 L766.30 794.23 L768.38 801.41 L770.47 808.87 L772.56 816.65 L774.65 824.75 L776.74 833.21 L778.83 842.04 L780.92 851.27 L783.01 860.93 L785.10 871.05 L787.19 881.65 L789.28 892.79 L791.37 904.49 L793.45 916.80 L795.54 929.78 L797.63 943.47 L799.72 957.93 L801.81 973.24 L803.90 989.47" stroke="#e8ae28"/>
</g>
<g clip-path="url(#cp)" fill="#fff" stroke="#000" stroke-width="1.5" stroke-linejoin="miter">
<circle cx="218.95" cy="338.49" r="7.8"/>
<circle cx="344.29" cy="327.33" r="7.8"/>
<circle cx="469.64" cy="302.50" r="7.8"/>
<circle cx="594.99" cy="243.29" r="7.8"/>
<circle cx="218.95" cy="399.84" r="7.8"/>
<circle cx="344.29" cy="396.44" r="7.8"/>
<circle cx="469.64" cy="388.99" r="7.8"/>
<circle cx="594.99" cy="371.90" r="7.8"/>
<circle cx="218.95" cy="456.32" r="7.8"/>
<circle cx="344.29" cy="459.44" r="7.8"/>
<circle cx="469.64" cy="466.17" r="7.8"/>
<circle cx="594.99" cy="481.13" r="7.8"/>
<circle cx="218.95" cy="508.48" r="7.8"/>
<circle cx="344.29" cy="517.11" r="7.8"/>
<circle cx="469.64" cy="535.46" r="7.8"/>
<circle cx="594.99" cy="575.06" r="7.8"/>
<path d="M83.70 341.75L93.60 331.85L103.50 341.75L93.60 351.65Z"/>
<path d="M209.05 344.89L218.95 334.99L228.85 344.89L218.95 354.79Z"/>
<path d="M334.39 354.02L344.29 344.12L354.19 354.02L344.29 363.92Z"/>
<path d="M459.74 368.31L469.64 358.41L479.54 368.31L469.64 378.21Z"/>
<path d="M585.09 386.51L594.99 376.61L604.89 386.51L594.99 396.41Z"/>
<path d="M83.70 400.84L93.60 390.94L103.50 400.84L93.60 410.74Z"/>
<path d="M209.05 401.81L218.95 391.91L228.85 401.81L218.95 411.71Z"/>
<path d="M334.39 404.63L344.29 394.73L354.19 404.63L344.29 414.53Z"/>
<path d="M459.74 409.10L469.64 399.20L479.54 409.10L469.64 419.00Z"/>
<path d="M585.09 414.18L594.99 404.28L604.89 414.18L594.99 424.08Z"/>
<path d="M83.70 455.39L93.60 445.49L103.50 455.39L93.60 465.29Z"/>
<path d="M209.05 454.50L218.95 444.60L228.85 454.50L218.95 464.40Z"/>
<path d="M334.39 450.87L344.29 440.97L354.19 450.87L344.29 460.77Z"/>
<path d="M459.74 447.07L469.64 437.17L479.54 447.07L469.64 456.97Z"/>
<path d="M585.09 441.25L594.99 431.35L604.89 441.25L594.99 451.15Z"/>
<path d="M83.70 505.91L93.60 496.01L103.50 505.91L93.60 515.81Z"/>
<path d="M209.05 503.42L218.95 493.52L228.85 503.42L218.95 513.32Z"/>
<path d="M334.39 494.86L344.29 484.96L354.19 494.86L344.29 504.76Z"/>
<path d="M459.74 483.69L469.64 473.79L479.54 483.69L469.64 493.59Z"/>
<path d="M585.09 467.18L594.99 457.28L604.89 467.18L594.99 477.08Z"/>
</g>
<g clip-path="url(#cp)" stroke="none">
<circle cx="720.34" cy="22.10" r="8.9" fill="#049bfb"/>
<circle cx="720.34" cy="314.69" r="8.9" fill="#ee8028"/>
<circle cx="720.34" cy="526.59" r="8.9" fill="#808080"/>
<circle cx="720.34" cy="686.27" r="8.9" fill="#fad42c"/>
<path d="M709.64 405.00L720.34 394.30L731.04 405.00L720.34 415.70Z" fill="#049bfb"/>
<path d="M709.64 420.90L720.34 410.20L731.04 420.90L720.34 431.60Z" fill="#ff8000"/>
<path d="M709.64 434.40L720.34 423.70L731.04 434.40L720.34 445.10Z" fill="#808080"/>
<path d="M709.64 448.90L720.34 438.20L731.04 448.90L720.34 459.60Z" fill="#fad42c"/>
</g>
<g font-size="24.3" text-anchor="end" stroke="#000" stroke-width="0.45">
<text x="77.4" y="17.8">1.3</text>
<text x="77.4" y="157.2">1.2</text>
<text x="77.4" y="296.5">1.1</text>
<text x="77.4" y="435.9">1</text>
<text x="77.4" y="575.2">0.9</text>
<text x="77.4" y="714.6">0.8</text>
<text x="77.4" y="853.9">0.7</text>
</g><g font-size="24.3" text-anchor="middle" stroke="#000" stroke-width="0.45">
<text x="93.6" y="882.6">0</text>
<text x="177.2" y="882.6">10</text>
<text x="260.7" y="882.6">20</text>
<text x="344.3" y="882.6">30</text>
<text x="427.9" y="882.6">40</text>
<text x="511.4" y="882.6">50</text>
<text x="595.0" y="882.6">60</text>
<text x="678.6" y="882.6">70</text>
<text x="762.1" y="882.6">80</text>
</g>
<g font-size="27.9" stroke="#000" stroke-width="0.5">
<text x="101.5" y="326.3">R = 10 m</text>
<text x="101.5" y="383.8">R = 30 m</text>
<text x="100.3" y="484.3">R = -30 m</text>
<text x="100.3" y="541.8">R = -10 m</text>
<text x="100.8" y="435.2">R =</text>
<text transform="translate(152.2 435.5) scale(1.2 1)" font-size="25" stroke="none">∞</text>
</g>
<text class="ser" transform="translate(410.6 928.8) scale(1.13 0.955)" font-size="35" stroke="#000" stroke-width="0.4">θ</text>
<text x="434.2" y="929" font-size="34" letter-spacing="0.6" stroke="#000" stroke-width="0.3"><tspan>(</tspan><tspan dy="-1.4">°</tspan><tspan dy="1.4">)</tspan></text>
<g transform="translate(19.5 448.5) rotate(-90)"><text x="0" y="0" font-size="40" class="dj">γ</text><text x="22.0" y="10.6" font-size="28.5" stroke="#000" stroke-width="0.4">c</text></g>
<rect x="825.90" y="12.10" width="175.60" height="175.00" fill="#fff" stroke="#00aeef" stroke-width="6.2"/>
<rect x="825.90" y="205.10" width="175.60" height="175.20" fill="#fff" stroke="#eb7b30" stroke-width="6.2"/>
<rect x="826" y="393.4" width="176" height="175.7" fill="#fff"/>
<g stroke="#000" stroke-width="4.5" fill="none">
<path d="M826.5 393.35H1003" stroke-dasharray="4.35 4.31"/>
<path d="M1001.1 401V570.2" stroke-dasharray="4.35 4.32"/>
<path d="M825.8 569.1H1003" stroke-dasharray="4.35 4.34"/>
<path d="M825.9 397.8V566.8" stroke-dasharray="4.35 4.31"/>
</g>
<rect x="825.90" y="583.10" width="175.60" height="175.20" fill="#fff" stroke="#7f7f7f" stroke-width="6.2"/>
<rect x="825.90" y="775.00" width="175.60" height="175.30" fill="#fff" stroke="#ffc000" stroke-width="6.2"/>
<g fill="#000" stroke="#000" stroke-width="0.4" stroke-linejoin="round">
<path d="M858.4 27.8v12.6" stroke-width="1.1" fill="none"/>
<path d="M886.0 27.8Q882.50 34.0 886.0 40.2Z"/>
<path d="M911.4 27.8v12.6" stroke-width="1.1" fill="none"/>
<path d="M938.8 28.1Q936.00 34.0 938.8 39.9Z"/>
<path d="M965.8 28.1Q963.00 34.0 965.8 39.9Z"/>
<path d="M858.4 61.0v12.6" stroke-width="1.1" fill="none"/>
<path d="M886.0 61.0Q882.50 67.2 886.0 73.4Z"/>
<path d="M911.4 61.0v12.6" stroke-width="1.1" fill="none"/>
<path d="M938.8 61.3Q936.00 67.2 938.8 73.1Z"/>
<path d="M965.8 61.3Q963.00 67.2 965.8 73.1Z"/>
<path d="M858.4 94.4v12.6" stroke-width="1.1" fill="none"/>
<path d="M886.0 94.4Q882.50 100.6 886.0 106.8Z"/>
<path d="M911.4 94.4v12.6" stroke-width="1.1" fill="none"/>
<path d="M938.8 94.7Q936.00 100.6 938.8 106.5Z"/>
<path d="M965.8 94.7Q963.00 100.6 965.8 106.5Z"/>
<path d="M858.4 127.6v12.6" stroke-width="1.1" fill="none"/>
<path d="M886.0 127.6Q882.50 133.8 886.0 140.0Z"/>
<path d="M911.4 127.6v12.6" stroke-width="1.1" fill="none"/>
<path d="M938.8 127.9Q936.00 133.8 938.8 139.7Z"/>
<path d="M965.8 127.9Q963.00 133.8 965.8 139.7Z"/>
<path d="M858.4 161.0v12.6" stroke-width="1.1" fill="none"/>
<path d="M886.0 161.0Q882.50 167.2 886.0 173.4Z"/>
<path d="M911.4 161.0v12.6" stroke-width="1.1" fill="none"/>
<path d="M938.8 161.3Q936.00 167.2 938.8 173.1Z"/>
<path d="M965.8 161.3Q963.00 167.2 965.8 173.1Z"/>
</g><g fill="#000">
<ellipse cx="859.0" cy="235.2" rx="1.10" ry="0.80"/>
<ellipse cx="885.6" cy="235.2" rx="1.40" ry="0.80"/>
<ellipse cx="911.5" cy="235.2" rx="0.90" ry="0.80"/>
<ellipse cx="938.0" cy="235.2" rx="1.10" ry="0.80"/>
<ellipse cx="964.8" cy="235.2" rx="1.00" ry="0.80"/>
<ellipse cx="859.0" cy="262.8" rx="1.10" ry="1.00"/>
<ellipse cx="885.6" cy="262.8" rx="1.40" ry="1.00"/>
<ellipse cx="911.5" cy="262.8" rx="0.90" ry="1.00"/>
<ellipse cx="938.0" cy="262.8" rx="1.10" ry="1.00"/>
<ellipse cx="964.8" cy="262.8" rx="1.00" ry="1.00"/>
<ellipse cx="859.0" cy="290.9" rx="1.10" ry="1.10"/>
<ellipse cx="885.6" cy="290.9" rx="1.40" ry="1.10"/>
<ellipse cx="911.5" cy="290.9" rx="0.90" ry="1.10"/>
<ellipse cx="938.0" cy="290.9" rx="1.10" ry="1.10"/>
<ellipse cx="964.8" cy="290.9" rx="1.00" ry="1.10"/>
<ellipse cx="859.0" cy="318.4" rx="1.10" ry="0.75"/>
<ellipse cx="885.6" cy="318.4" rx="1.40" ry="0.75"/>
<ellipse cx="911.5" cy="318.4" rx="0.90" ry="0.75"/>
<ellipse cx="938.0" cy="318.4" rx="1.10" ry="0.75"/>
<ellipse cx="964.8" cy="318.4" rx="1.00" ry="0.75"/>
<ellipse cx="859.0" cy="346.9" rx="1.10" ry="0.75"/>
<ellipse cx="885.6" cy="346.9" rx="1.40" ry="0.75"/>
<ellipse cx="911.5" cy="346.9" rx="0.90" ry="0.75"/>
<ellipse cx="938.0" cy="346.9" rx="1.10" ry="0.75"/>
<ellipse cx="964.8" cy="346.9" rx="1.00" ry="0.75"/>
<ellipse cx="861.4" cy="429.9" rx="1.10" ry="1.20"/>
<ellipse cx="888.0" cy="429.9" rx="1.10" ry="1.20"/>
<ellipse cx="913.9" cy="429.9" rx="1.10" ry="1.20"/>
<ellipse cx="939.7" cy="429.9" rx="1.10" ry="1.20"/>
<ellipse cx="965.9" cy="429.9" rx="1.10" ry="1.20"/>
<ellipse cx="861.4" cy="455.4" rx="1.10" ry="1.20"/>
<ellipse cx="888.0" cy="455.4" rx="1.10" ry="1.20"/>
<ellipse cx="913.9" cy="455.4" rx="1.10" ry="1.20"/>
<ellipse cx="939.7" cy="455.4" rx="1.10" ry="1.20"/>
<ellipse cx="965.9" cy="455.4" rx="1.10" ry="1.20"/>
<ellipse cx="861.4" cy="481.2" rx="1.10" ry="1.20"/>
<ellipse cx="888.0" cy="481.2" rx="1.10" ry="1.20"/>
<ellipse cx="913.9" cy="481.2" rx="1.10" ry="1.20"/>
<ellipse cx="939.7" cy="481.2" rx="1.10" ry="1.20"/>
<ellipse cx="965.9" cy="481.2" rx="1.10" ry="1.20"/>
<ellipse cx="861.4" cy="506.9" rx="1.10" ry="1.20"/>
<ellipse cx="888.0" cy="506.9" rx="1.10" ry="1.20"/>
<ellipse cx="913.9" cy="506.9" rx="1.10" ry="1.20"/>
<ellipse cx="939.7" cy="506.9" rx="1.10" ry="1.20"/>
<ellipse cx="965.9" cy="506.9" rx="1.10" ry="1.20"/>
<ellipse cx="861.4" cy="532.5" rx="1.10" ry="1.20"/>
<ellipse cx="888.0" cy="532.5" rx="1.10" ry="1.20"/>
<ellipse cx="913.9" cy="532.5" rx="1.10" ry="1.20"/>
<ellipse cx="939.7" cy="532.5" rx="1.10" ry="1.20"/>
<ellipse cx="965.9" cy="532.5" rx="1.10" ry="1.20"/>
</g><g fill="#000" stroke="#000" stroke-width="0.4" stroke-linejoin="round">
<path d="M859.5 620.8Q856.80 623.8 859.5 626.8Q862.20 623.8 859.5 620.8Z"/>
<path d="M886.9 620.8C883.31 621.4 883.31 626.2 886.9 626.8Z"/>
<path d="M911.5 620.8Q908.60 623.8 911.5 626.8Q914.40 623.8 911.5 620.8Z"/>
<path d="M937.6 620.8Q935.00 623.8 937.6 626.8Q940.20 623.8 937.6 620.8Z"/>
<path d="M963.1 620.8C966.43 621.4 966.43 626.2 963.1 626.8Z"/>
<path d="M859.5 644.8Q856.80 647.8 859.5 650.8Q862.20 647.8 859.5 644.8Z"/>
<path d="M886.9 644.8C883.31 645.4 883.31 650.2 886.9 650.8Z"/>
<path d="M911.5 644.8Q908.60 647.8 911.5 650.8Q914.40 647.8 911.5 644.8Z"/>
<path d="M937.6 644.8Q935.00 647.8 937.6 650.8Q940.20 647.8 937.6 644.8Z"/>
<path d="M963.1 644.8C966.43 645.4 966.43 650.2 963.1 650.8Z"/>
<path d="M859.5 668.9Q856.80 671.9 859.5 674.9Q862.20 671.9 859.5 668.9Z"/>
<path d="M886.9 668.9C883.31 669.5 883.31 674.3 886.9 674.9Z"/>
<path d="M911.5 668.9Q908.60 671.9 911.5 674.9Q914.40 671.9 911.5 668.9Z"/>
<path d="M937.6 668.9Q935.00 671.9 937.6 674.9Q940.20 671.9 937.6 668.9Z"/>
<path d="M963.1 668.9C966.43 669.5 966.43 674.3 963.1 674.9Z"/>
<path d="M859.5 692.5Q856.80 695.5 859.5 698.5Q862.20 695.5 859.5 692.5Z"/>
<path d="M886.9 692.5C883.31 693.1 883.31 697.9 886.9 698.5Z"/>
<path d="M911.5 692.5Q908.60 695.5 911.5 698.5Q914.40 695.5 911.5 692.5Z"/>
<path d="M937.6 692.5Q935.00 695.5 937.6 698.5Q940.20 695.5 937.6 692.5Z"/>
<path d="M963.1 692.5C966.43 693.1 966.43 697.9 963.1 698.5Z"/>
<path d="M859.5 716.2Q856.80 719.2 859.5 722.2Q862.20 719.2 859.5 716.2Z"/>
<path d="M886.9 716.2C883.31 716.8 883.31 721.6 886.9 722.2Z"/>
<path d="M911.5 716.2Q908.60 719.2 911.5 722.2Q914.40 719.2 911.5 716.2Z"/>
<path d="M937.6 716.2Q935.00 719.2 937.6 722.2Q940.20 719.2 937.6 716.2Z"/>
<path d="M963.1 716.2C966.43 716.8 966.43 721.6 963.1 722.2Z"/>
<path d="M860.0 812.8Q857.30 819.0 860.0 825.2Q862.70 819.0 860.0 812.8Z"/>
<path d="M886.2 812.8Q882.50 819.0 886.2 825.2Q889.90 819.0 886.2 812.8Z"/>
<path d="M911.6 812.8Q908.10 819.0 911.6 825.2Q915.10 819.0 911.6 812.8Z"/>
<path d="M937.3 812.8Q934.70 819.0 937.3 825.2Q939.90 819.0 937.3 812.8Z"/>
<path d="M963.3 812.8Q960.40 819.0 963.3 825.2Q966.20 819.0 963.3 812.8Z"/>
<path d="M860.0 833.9Q857.30 840.1 860.0 846.3Q862.70 840.1 860.0 833.9Z"/>
<path d="M886.2 833.9Q882.50 840.1 886.2 846.3Q889.90 840.1 886.2 833.9Z"/>
<path d="M911.6 833.9Q908.10 840.1 911.6 846.3Q915.10 840.1 911.6 833.9Z"/>
<path d="M937.3 833.9Q934.70 840.1 937.3 846.3Q939.90 840.1 937.3 833.9Z"/>
<path d="M963.3 833.9Q960.40 840.1 963.3 846.3Q966.20 840.1 963.3 833.9Z"/>
<path d="M860.0 855.2Q857.30 861.4 860.0 867.6Q862.70 861.4 860.0 855.2Z"/>
<path d="M886.2 855.2Q882.50 861.4 886.2 867.6Q889.90 861.4 886.2 855.2Z"/>
<path d="M911.6 855.2Q908.10 861.4 911.6 867.6Q915.10 861.4 911.6 855.2Z"/>
<path d="M937.3 855.2Q934.70 861.4 937.3 867.6Q939.90 861.4 937.3 855.2Z"/>
<path d="M963.3 855.2Q960.40 861.4 963.3 867.6Q966.20 861.4 963.3 855.2Z"/>
<path d="M860.0 876.3Q857.30 882.5 860.0 888.7Q862.70 882.5 860.0 876.3Z"/>
<path d="M886.2 876.3Q882.50 882.5 886.2 888.7Q889.90 882.5 886.2 876.3Z"/>
<path d="M911.6 876.3Q908.10 882.5 911.6 888.7Q915.10 882.5 911.6 876.3Z"/>
<path d="M937.3 876.3Q934.70 882.5 937.3 888.7Q939.90 882.5 937.3 876.3Z"/>
<path d="M963.3 876.3Q960.40 882.5 963.3 888.7Q966.20 882.5 963.3 876.3Z"/>
<path d="M860.0 897.4Q857.30 903.6 860.0 909.8Q862.70 903.6 860.0 897.4Z"/>
<path d="M886.2 897.4Q882.50 903.6 886.2 909.8Q889.90 903.6 886.2 897.4Z"/>
<path d="M911.6 897.4Q908.10 903.6 911.6 909.8Q915.10 903.6 911.6 897.4Z"/>
<path d="M937.3 897.4Q934.70 903.6 937.3 909.8Q939.90 903.6 937.3 897.4Z"/>
<path d="M963.3 897.4Q960.40 903.6 963.3 909.8Q966.20 903.6 963.3 897.4Z"/>
</g>
</svg></body></html>
